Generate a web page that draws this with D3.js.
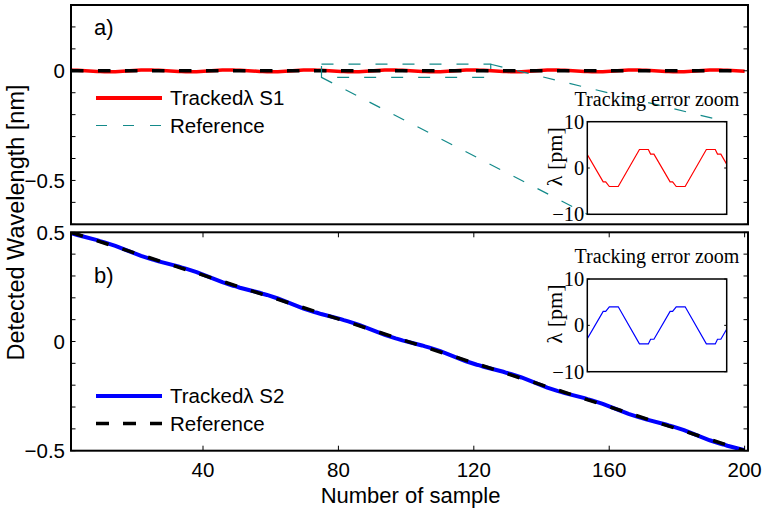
<!DOCTYPE html>
<html>
<head>
<meta charset="utf-8">
<script src="https://cdn.jsdelivr.net/npm/d3@7"></script>
<style>
  body { margin: 0; background: #fff; }
  svg { display: block; }
</style>
</head>
<body>
<script>
// ---- data ----
const xTickValues = [40, 80, 120, 160, 200];
const topYTickValues = [0.3, 0.2, 0.1, 0, -0.1, -0.2, -0.3, -0.4, -0.5, -0.6, -0.7];
const topYLabelValues = [0, -0.5];
const bottomYTickValues = [0.5, 0.4, 0.3, 0.2, 0.1, 0, -0.1, -0.2, -0.3, -0.4, -0.5];
const bottomYLabelValues = [0.5, 0, -0.5];
const insetYTickValues = [10, 0, -10];

// reference wavelength [nm] at the first and last sample
const refS1 = [[1, 0], [200, 0]];
const refS2 = [[1, 0.5], [200, -0.5]];

// tracking error [pm] (sample, error) at the corners of the error trace
const errS1 = [
  [1, 3.9], [1.7, 3], [2.9, 3], [8.7, -3], [9.6, -3], [10.9, -4], [14.1, -4],
  [21.7, 4], [24.9, 4], [25.7, 3], [26.9, 3], [32.7, -3], [33.6, -3], [34.9, -4], [38.1, -4],
  [45.7, 4], [48.9, 4], [49.7, 3], [50.9, 3], [56.7, -3], [57.6, -3], [58.9, -4], [62.1, -4],
  [69.7, 4], [72.9, 4], [73.7, 3], [74.9, 3], [80.7, -3], [81.6, -3], [82.9, -4], [86.1, -4],
  [93.7, 4], [96.9, 4], [97.7, 3], [98.9, 3], [104.7, -3], [105.6, -3], [106.9, -4], [110.1, -4],
  [117.7, 4], [120.9, 4], [121.7, 3], [122.9, 3], [128.7, -3], [129.6, -3], [130.9, -4], [134.1, -4],
  [141.7, 4], [144.9, 4], [145.7, 3], [146.9, 3], [152.7, -3], [153.6, -3], [154.9, -4], [158.1, -4],
  [165.7, 4], [168.9, 4], [169.7, 3], [170.9, 3], [176.7, -3], [177.6, -3], [178.9, -4], [182.1, -4],
  [189.7, 4], [192.9, 4], [193.7, 3], [194.9, 3], [200, -2.3]
];
const errS2 = [
  [1, -3.9], [1.7, -3], [2.9, -3], [8.7, 3], [9.6, 3], [10.9, 4], [14.1, 4],
  [21.7, -4], [24.9, -4], [25.7, -3], [26.9, -3], [32.7, 3], [33.6, 3], [34.9, 4], [38.1, 4],
  [45.7, -4], [48.9, -4], [49.7, -3], [50.9, -3], [56.7, 3], [57.6, 3], [58.9, 4], [62.1, 4],
  [69.7, -4], [72.9, -4], [73.7, -3], [74.9, -3], [80.7, 3], [81.6, 3], [82.9, 4], [86.1, 4],
  [93.7, -4], [96.9, -4], [97.7, -3], [98.9, -3], [104.7, 3], [105.6, 3], [106.9, 4], [110.1, 4],
  [117.7, -4], [120.9, -4], [121.7, -3], [122.9, -3], [128.7, 3], [129.6, 3], [130.9, 4], [134.1, 4],
  [141.7, -4], [144.9, -4], [145.7, -3], [146.9, -3], [152.7, 3], [153.6, 3], [154.9, 4], [158.1, 4],
  [165.7, -4], [168.9, -4], [169.7, -3], [170.9, -3], [176.7, 3], [177.6, 3], [178.9, 4], [182.1, 4],
  [189.7, -4], [192.9, -4], [193.7, -3], [194.9, -3], [200, 2.3]
];

// zoomed window: sample range and wavelength range [nm]
const zoomSamples = [75, 125];
const zoomWavelength = [-0.03, 0.03];

// ---- layout ----
const W = 764, H = 513;
const frame = { x0: 71, x1: 748 };
const topBox = { y0: 5, y1: 224.3 };
const botBox = { y0: 232.3, y1: 450.7 };
const insetTop = { x0: 587.3, x1: 726.7, y0: 121.7, y1: 214.3 };
const insetBot = { x0: 587.3, x1: 726.7, y0: 279, y1: 371.7 };

const SANS = "'Liberation Sans', Arial, Helvetica, sans-serif";
const SERIF = "'Liberation Serif', 'Times New Roman', serif";
const TICK_FS = 20.5;
const fmt = v => (v < 0 ? "\u2212" : "") + String(Math.abs(v));

const svg = d3.select("body").append("svg").attr("width", W).attr("height", H);

const x = d3.scaleLinear().domain([1, 201]).range([frame.x0, frame.x1]);
const yTop = d3.scaleLinear().domain([-0.7, 0.3]).range([topBox.y1, topBox.y0]);
const yBot = d3.scaleLinear().domain([-0.5, 0.5]).range([botBox.y1, botBox.y0]);

const refScale1 = d3.scaleLinear().domain(refS1.map(d => d[0])).range(refS1.map(d => d[1]));
const refScale2 = d3.scaleLinear().domain(refS2.map(d => d[0])).range(refS2.map(d => d[1]));
const tracked1 = errS1.map(([s, e]) => [s, refScale1(s) + e / 1000]);
const tracked2 = errS2.map(([s, e]) => [s, refScale2(s) + e / 1000]);

const defs = svg.append("defs");
function clip(id, b) {
  defs.append("clipPath").attr("id", id).append("rect")
    .attr("x", b.x0).attr("y", b.y0).attr("width", b.x1 - b.x0).attr("height", b.y1 - b.y0);
}
clip("clipTop", { x0: frame.x0, x1: frame.x1, y0: topBox.y0, y1: topBox.y1 });
clip("clipBot", { x0: frame.x0, x1: frame.x1, y0: botBox.y0, y1: botBox.y1 });
clip("clipInsetTop", insetTop);
clip("clipInsetBot", insetBot);

function drawFrame(box, yScale, yTicks, yLabels, xTicksOn) {
  const g = svg.append("g");
  // y ticks on both sides, pointing inward
  yTicks.forEach(v => {
    const yy = yScale(v);
    g.append("line").attr("x1", frame.x0).attr("x2", frame.x0 + 4.5).attr("y1", yy).attr("y2", yy)
      .attr("stroke", "#000").attr("stroke-width", 1);
    g.append("line").attr("x1", frame.x1).attr("x2", frame.x1 - 4.5).attr("y1", yy).attr("y2", yy)
      .attr("stroke", "#000").attr("stroke-width", 1);
  });
  yLabels.forEach(v => {
    g.append("text").attr("x", 65).attr("y", yScale(v)).attr("dy", "0.36em")
      .attr("text-anchor", "end").attr("font-family", SANS).attr("font-size", TICK_FS)
      .text(fmt(v));
  });
  if (xTicksOn) {
    xTickValues.forEach(v => {
      const xx = x(v);
      g.append("line").attr("x1", xx).attr("x2", xx).attr("y1", box.y1).attr("y2", box.y1 - 5)
        .attr("stroke", "#000").attr("stroke-width", 1);
      g.append("line").attr("x1", xx).attr("x2", xx).attr("y1", box.y0).attr("y2", box.y0 + 5)
        .attr("stroke", "#000").attr("stroke-width", 1);
    });
  }
  g.append("rect").attr("x", frame.x0).attr("y", box.y0)
    .attr("width", frame.x1 - frame.x0).attr("height", box.y1 - box.y0)
    .attr("fill", "none").attr("stroke", "#000").attr("stroke-width", 2);
}

const TEAL = "#138a8a";
const lineMain = d3.line().x(d => x(d[0]));

// ---- panel a ----
const gA = svg.append("g").attr("clip-path", "url(#clipTop)");
gA.append("path").datum(tracked1)
  .attr("d", lineMain.y(d => yTop(d[1])))
  .attr("fill", "none").attr("stroke", "#ff0000").attr("stroke-width", 3.5);
gA.append("path").datum(refS1)
  .attr("d", lineMain.y(d => yTop(d[1])))
  .attr("fill", "none").attr("stroke", "#000").attr("stroke-width", 3.5)
  .attr("stroke-dasharray", "12.5,14.5");

// zoom window and connectors
const zx0 = x(zoomSamples[0]), zx1 = x(zoomSamples[1]);
const zy0 = yTop(zoomWavelength[1]), zy1 = yTop(zoomWavelength[0]);
svg.append("rect").attr("x", zx0).attr("y", zy0).attr("width", zx1 - zx0).attr("height", zy1 - zy0)
  .attr("fill", "none").attr("stroke", TEAL).attr("stroke-width", 1.2).attr("stroke-dasharray", "12,15");
svg.append("line").attr("x1", zx1).attr("y1", zy0).attr("x2", insetTop.x1).attr("y2", insetTop.y0)
  .attr("stroke", TEAL).attr("stroke-width", 1.2).attr("stroke-dasharray", "12,15");
svg.append("line").attr("x1", zx0).attr("y1", zy1).attr("x2", insetTop.x0).attr("y2", insetTop.y1)
  .attr("stroke", TEAL).attr("stroke-width", 1.2).attr("stroke-dasharray", "12,15");

drawFrame(topBox, yTop, topYTickValues, topYLabelValues, false);

// ---- panel b ----
const gB = svg.append("g").attr("clip-path", "url(#clipBot)");
gB.append("path").datum(tracked2)
  .attr("d", lineMain.y(d => yBot(d[1])))
  .attr("fill", "none").attr("stroke", "#0000ff").attr("stroke-width", 4);
gB.append("path").datum(refS2)
  .attr("d", lineMain.y(d => yBot(d[1])))
  .attr("fill", "none").attr("stroke", "#000").attr("stroke-width", 3.5)
  .attr("stroke-dasharray", "12.5,14.5");

drawFrame(botBox, yBot, bottomYTickValues, bottomYLabelValues, true);

// x tick labels
xTickValues.forEach(v => {
  svg.append("text").attr("x", x(v)).attr("y", 477).attr("text-anchor", "middle")
    .attr("font-family", SANS).attr("font-size", TICK_FS).text(v);
});

// axis titles
svg.append("text").attr("x", (frame.x0 + frame.x1) / 2 + 1).attr("y", 503).attr("text-anchor", "middle")
  .attr("font-family", SANS).attr("font-size", 22).text("Number of sample");
svg.append("text").attr("transform", "translate(23.5,222.5) rotate(-90)").attr("text-anchor", "middle")
  .attr("font-family", SANS).attr("font-size", 23.5).text("Detected Wavelength [nm]");

// panel tags
svg.append("text").attr("x", 94).attr("y", 35).attr("font-family", SANS).attr("font-size", 22).text("a)");
svg.append("text").attr("x", 94).attr("y", 283).attr("font-family", SANS).attr("font-size", 22).text("b)");

// ---- legends ----
function legend(items, y0) {
  items.forEach((it, i) => {
    const yy = y0 + i * 27.5;
    svg.append("line").attr("x1", 96).attr("x2", 162).attr("y1", yy).attr("y2", yy)
      .attr("stroke", it.color).attr("stroke-width", it.width)
      .attr("stroke-dasharray", it.dash || null);
    svg.append("text").attr("x", 170).attr("y", yy).attr("dy", "0.36em")
      .attr("font-family", SANS).attr("font-size", 20.5).text(it.label);
  });
}
legend([
  { label: "Tracked\u03bb S1", color: "#ff0000", width: 4 },
  { label: "Reference", color: TEAL, width: 1.2, dash: "11,16" }
], 98);
legend([
  { label: "Tracked\u03bb S2", color: "#0000ff", width: 4 },
  { label: "Reference", color: "#000", width: 3.5, dash: "13,14" }
], 396);

// ---- insets ----
function inset(box, err, color, clipId) {
  const ix = d3.scaleLinear().domain(zoomSamples).range([box.x0, box.x1]);
  const iy = d3.scaleLinear().domain([-10, 10]).range([box.y1, box.y0]);
  const g = svg.append("g");
  g.append("rect").attr("x", box.x0).attr("y", box.y0).attr("width", box.x1 - box.x0)
    .attr("height", box.y1 - box.y0).attr("fill", "#fff");
  g.append("g").attr("clip-path", `url(#${clipId})`).append("path").datum(err)
    .attr("d", d3.line().x(d => ix(d[0])).y(d => iy(d[1])))
    .attr("fill", "none").attr("stroke", color).attr("stroke-width", 1.2);
  insetYTickValues.forEach(v => {
    const yy = iy(v);
    g.append("line").attr("x1", box.x0).attr("x2", box.x0 + 2.5).attr("y1", yy).attr("y2", yy)
      .attr("stroke", "#000").attr("stroke-width", 1);
    g.append("line").attr("x1", box.x1).attr("x2", box.x1 - 2.5).attr("y1", yy).attr("y2", yy)
      .attr("stroke", "#000").attr("stroke-width", 1);
    g.append("text").attr("x", box.x0 - 3).attr("y", yy).attr("dy", "0.34em")
      .attr("text-anchor", "end").attr("font-family", SERIF).attr("font-size", 20.5).text(fmt(v));
  });
  g.append("rect").attr("x", box.x0).attr("y", box.y0).attr("width", box.x1 - box.x0)
    .attr("height", box.y1 - box.y0).attr("fill", "none").attr("stroke", "#000").attr("stroke-width", 1.5);
  g.append("text").attr("x", (box.x0 + box.x1) / 2).attr("y", box.y0 - 15.7).attr("text-anchor", "middle")
    .attr("font-family", SERIF).attr("font-size", 20).text("Tracking error zoom");
  g.append("text").attr("transform", `translate(${box.x0 - 25},${box.y0 + 35}) rotate(-90)`)
    .attr("text-anchor", "middle").attr("font-family", SERIF).attr("font-size", 22).text("\u03bb [pm]");
}
inset(insetTop, errS1, "#ff0000", "clipInsetTop");
inset(insetBot, errS2, "#0000ff", "clipInsetBot");
</script>
</body>
</html>
